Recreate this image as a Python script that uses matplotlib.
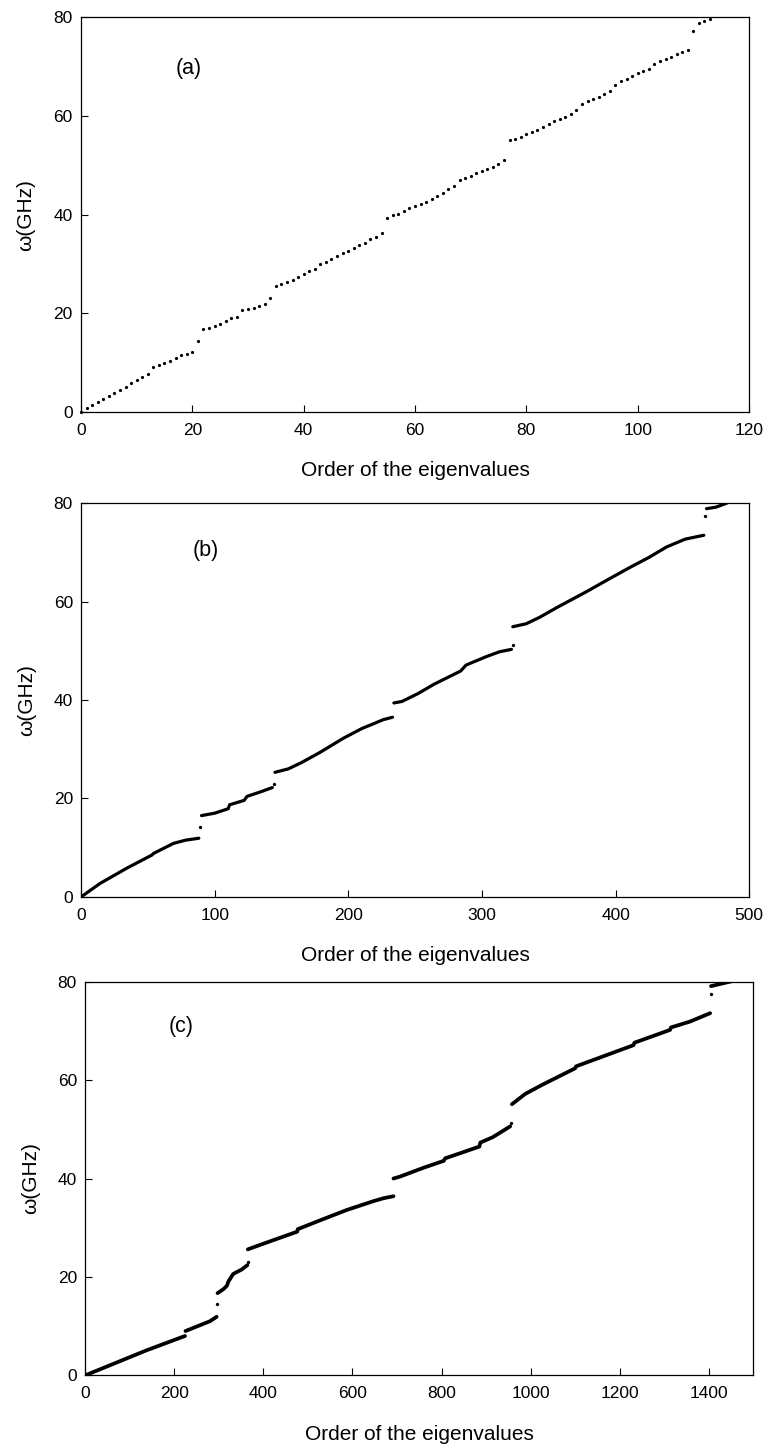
import matplotlib

matplotlib.use("Agg")

import matplotlib.pyplot as plt
import numpy as np


OUT_PATH = "out.png"
DPI = 100
FIGSIZE = (7.69, 14.52)
TICK_SIZE = 12.5
LABEL_SIZE = 15
PANEL_SIZE = 15.5
nan = np.nan

# (a): one dot per eigenvalue, order = 0, 1, 2, ...
A_OMEGA = [
    0.0, 0.74, 1.42, 1.96, 2.63, 3.24, 3.91, 4.45, 5.13, 5.81, 6.48, 7.09,
    7.69, 9.04, 9.45, 9.85, 10.32, 10.86, 11.47, 11.8, 12.08, 14.4,
    16.8, 17.07, 17.41, 17.81, 18.49, 18.96, 19.3, 20.65, 20.85, 21.05,
    21.52, 21.86, 23.0,
    25.57, 25.91, 26.25, 26.72, 27.26, 27.94, 28.48, 29.01, 29.89, 30.43,
    31.04, 31.51, 32.12, 32.66, 33.27, 33.81, 34.34, 35.02, 35.56, 36.17,
    39.4, 39.88, 40.22, 40.76, 41.3, 41.7, 42.1, 42.65, 43.26, 43.8, 44.33,
    45.28, 45.88, 47.1, 47.5, 47.91, 48.38, 48.79, 49.33, 49.66, 50.27, 51.15,
    55.06, 55.4, 55.74, 56.28, 56.75, 57.22, 57.76, 58.3, 58.97, 59.38,
    59.78, 60.32, 61.13, 62.48, 62.96, 63.36, 63.83, 64.37, 65.05, 66.2,
    67.0, 67.55, 68.02, 68.7, 69.1, 69.57, 70.58, 71.12, 71.6, 71.93,
    72.47, 72.94, 73.28,
    77.3, 78.85, 79.2, 79.6,
]

# (b): bands read as knots, nan separates bands
B_ORDER = [
    0, 14, 34, 53, 54, 69, 78, 88, nan,
    90, 100, 110, 111, 122, 124, 135, 143, nan,
    145, 155, 165, 179, 196, 210, 219, 226, 233, nan,
    234, 240, 252, 264, 284, 288, 303, 313, 322, nan,
    323, 333, 343, 356, 378, 395, 411, 425, 438, 452, 466, nan,
    468, 475, 483,
]
B_OMEGA = [
    0.0, 2.7, 5.8, 8.5, 8.8, 10.85, 11.5, 11.9, nan,
    16.5, 17.0, 17.9, 18.7, 19.6, 20.4, 21.4, 22.2, nan,
    25.3, 26.0, 27.3, 29.4, 32.2, 34.2, 35.2, 36.0, 36.5, nan,
    39.4, 39.7, 41.3, 43.2, 45.9, 47.1, 48.8, 49.8, 50.3, nan,
    54.9, 55.5, 56.8, 58.8, 62.0, 64.6, 67.0, 69.0, 71.1, 72.7, 73.5, nan,
    78.9, 79.2, 80.0,
]
B_GAP_ORDER = [89, 144, 323, 467]
B_GAP_OMEGA = [14.1, 22.9, 51.2, 77.4]

# (c)
C_ORDER = [
    0, 138, 224, nan,
    225, 258, 280, 295, nan,
    297, 310, 318, 321, 332, 351, 364, nan,
    365, 380, 420, 476, 477, 530, 587, 647, 670, 692, nan,
    692, 707, 760, 805, 808, 850, 885, 887, 915, 940, 954, nan,
    958, 988, 1025, 1100, 1102, 1231, 1233, 1313, 1315, 1358, 1403, nan,
    1405, 1452,
]
C_OMEGA = [
    0.0, 5.1, 8.0, nan,
    9.0, 10.2, 11.0, 11.9, nan,
    16.7, 17.5, 18.2, 19.0, 20.6, 21.5, 22.4, nan,
    25.6, 26.1, 27.4, 29.2, 29.7, 31.6, 33.6, 35.4, 36.0, 36.4, nan,
    40.0, 40.4, 42.2, 43.6, 44.1, 45.4, 46.5, 47.3, 48.4, 49.8, 50.6, nan,
    55.1, 57.2, 59.0, 62.4, 62.8, 67.1, 67.6, 70.2, 70.7, 71.9, 73.6, nan,
    79.1, 80.1,
]
C_GAP_ORDER = [296, 366, 957, 1404]
C_GAP_OMEGA = [14.4, 23.1, 51.3, 77.6]

# axes rectangles in figure fractions (left, bottom, width, height)
RECT_A = [0.1053, 0.7163, 0.8687, 0.2718]
RECT_B = [0.1057, 0.3824, 0.8686, 0.2710]
RECT_C = [0.1109, 0.0528, 0.8687, 0.2711]


def style_axis(ax, x_max, x_ticks, tag, tag_xy):
    ax.set_xlim(0, x_max)
    ax.set_ylim(0, 80)
    ax.set_xticks(x_ticks)
    ax.set_yticks([0, 20, 40, 60, 80])
    ax.tick_params(direction="in", length=5, width=0.8, labelsize=TICK_SIZE,
                   top=False, right=False)
    ax.tick_params(axis="x", pad=8)
    ax.tick_params(axis="y", pad=6)
    for spine in ax.spines.values():
        spine.set_linewidth(0.9)
    ax.set_xlabel("Order of the eigenvalues", fontsize=LABEL_SIZE)
    ax.set_ylabel("ω(GHz)", fontsize=LABEL_SIZE)
    ax.xaxis.set_label_coords(0.5, -0.125)
    ax.yaxis.set_label_coords(-0.068, 0.5)
    ax.text(tag_xy[0], tag_xy[1], tag, transform=ax.transAxes,
            fontsize=PANEL_SIZE, ha="center", va="center")


def main():
    plt.rcParams["font.family"] = ["Liberation Sans", "DejaVu Sans"]
    fig = plt.figure(figsize=FIGSIZE, dpi=DPI)

    ax_a = fig.add_axes(RECT_A)
    ax_a.plot(np.arange(len(A_OMEGA)), A_OMEGA, "o", color="black",
              ms=2.3, mew=0, clip_on=False, zorder=3)
    style_axis(ax_a, 120, [0, 20, 40, 60, 80, 100, 120], "(a)", (0.161, 0.871))

    ax_b = fig.add_axes(RECT_B)
    ax_b.plot(B_ORDER, B_OMEGA, "-", color="black", lw=2.3,
              solid_capstyle="round")
    ax_b.plot(B_GAP_ORDER, B_GAP_OMEGA, "o", color="black", ms=2.4, mew=0)
    style_axis(ax_b, 500, [0, 100, 200, 300, 400, 500], "(b)", (0.187, 0.881))

    ax_c = fig.add_axes(RECT_C)
    ax_c.plot(C_ORDER, C_OMEGA, "-", color="black", lw=2.7,
              solid_capstyle="round")
    ax_c.plot(C_GAP_ORDER, C_GAP_OMEGA, "o", color="black", ms=2.4, mew=0)
    style_axis(ax_c, 1500, [0, 200, 400, 600, 800, 1000, 1200, 1400],
               "(c)", (0.143, 0.886))

    fig.savefig(OUT_PATH, dpi=DPI)
    plt.close(fig)


if __name__ == "__main__":
    main()
